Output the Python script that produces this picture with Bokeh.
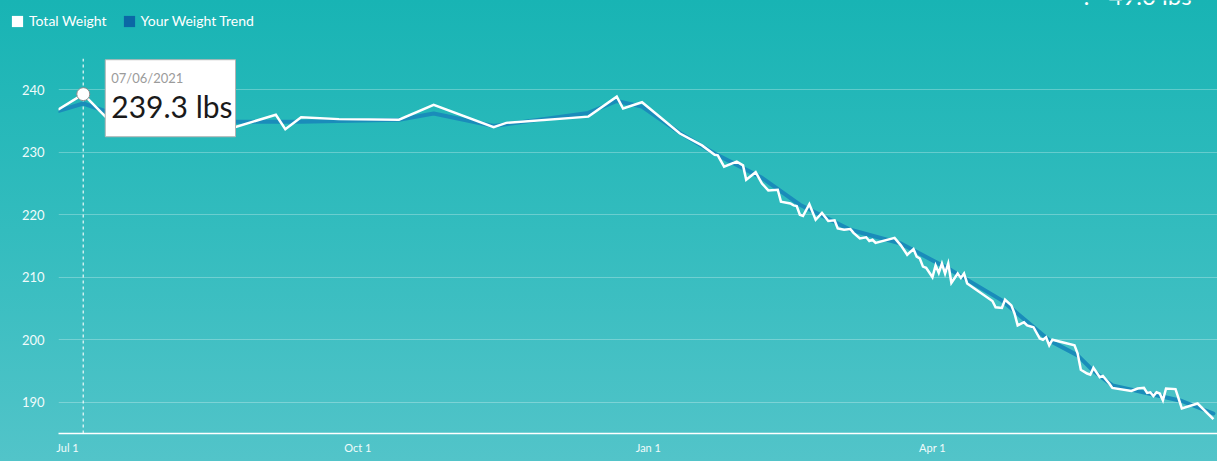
import pandas as pd
from bokeh.plotting import figure
from bokeh.layouts import column
from bokeh.models import FixedTicker, Label, Span, Range1d, Legend, LegendItem
from bokeh.embed import file_html
from bokeh.resources import INLINE

# ---------------- data ----------------
START = "2021-07-01"   # day 0 of the day offsets below

weight_days = [-3, 5, 12, 15, 36, 53, 66, 69, 74, 86, 105, 116, 135, 139, 165, 174, 176, 182,
               194, 201, 205, 206, 208, 212, 214, 215, 218, 220, 222, 225, 226, 229, 230, 231,
               232, 233, 235, 237, 239, 241, 243, 244, 246, 248, 249, 251, 253, 254, 255, 256,
               262, 264, 266, 268, 269, 270, 271, 272, 274, 275, 276, 277, 278, 279, 280, 282,
               283, 284, 285, 293, 294, 296, 297, 299, 300, 301, 303, 304, 306, 308, 309, 310,
               311, 312, 319, 320, 321, 323, 324, 325, 327, 328, 330, 331, 337, 339, 341, 342,
               343, 344, 345, 346, 347, 348, 351, 353, 358, 363]
weight_lbs = [236.8, 239.3, 235.7, 234.4, 233.9, 234.0, 236.0, 233.7, 235.6, 235.3, 235.2, 237.6,
              234.0, 234.7, 235.7, 238.9, 237.0, 238.0, 233.0, 231.1, 229.6, 229.5, 227.7, 228.5,
              227.9, 225.6, 226.8, 225.0, 223.9, 224.0, 222.1, 221.8, 221.5, 221.4, 220.0, 219.8,
              221.7, 219.2, 220.3, 219.0, 219.1, 217.8, 217.6, 217.7, 217.1, 216.2, 216.4, 215.8,
              216.0, 215.5, 216.3, 215.1, 213.6, 214.5, 213.3, 213.0, 211.7, 211.5, 210.0, 211.9,
              210.7, 212.2, 210.6, 212.2, 209.1, 210.6, 209.9, 210.6, 209.0, 206.2, 205.2, 205.1,
              206.4, 205.5, 204.2, 202.3, 202.8, 202.3, 202.0, 200.2, 200.0, 200.4, 199.1, 200.0,
              199.1, 197.8, 195.2, 194.6, 194.4, 195.5, 194.0, 194.2, 193.0, 192.3, 191.8, 192.2,
              192.3, 191.5, 191.6, 191.0, 191.6, 191.4, 190.3, 192.2, 192.1, 189.0, 189.8, 187.3]

trend_days = [-3, 5, 17, 42, 74, 105, 116, 135, 165, 174, 182, 194, 205, 220, 232, 248, 264,
              280, 296, 311, 320, 325, 331, 346, 353, 363]
trend_lbs = [236.6, 237.8, 235.7, 234.9, 234.9, 235.2, 236.2, 234.2, 236.3, 238.2, 237.3, 233.1,
             229.8, 225.9, 221.6, 217.6, 215.4, 211.1, 206.3, 199.9, 197.5, 195.0, 192.7, 191.0,
             190.2, 188.2]

x_tick_dates = ["2021-07-01", "2021-10-01", "2022-01-01", "2022-04-01"]
x_tick_labels = ["Jul 1", "Oct 1", "Jan 1", "Apr 1"]
y_ticks = [190, 200, 210, 220, 230, 240]

legend_labels = ["Total Weight", "Your Weight Trend"]
legend_colors = ["#ffffff", "#0b68a5"]
selected_date = "2021-07-06"
selected_lbs = 239.3
total_lost_text = "49.0 lbs"

# ---------------- build ----------------
start = pd.Timestamp(START)
w_dates = start + pd.to_timedelta(weight_days, unit="D")
t_dates = start + pd.to_timedelta(trend_days, unit="D")
sel = pd.Timestamp(selected_date)

FONT = "Lato"
WHITE = "#ffffff"
TREND = "#1a8cba"
W, H_TOP, H_MAIN = 1217, 58, 403

# ---- header strip (legend + cut-off total) ----
top = figure(width=W, height=H_TOP, output_backend="svg", toolbar_location=None, title=None,
             x_axis_location=None, y_axis_location=None,
             x_range=Range1d(0, 1), y_range=Range1d(0, 1),
             min_border_left=0, min_border_right=0, min_border_top=0, min_border_bottom=0)
top.frame_align = False
top.background_fill_alpha = 0
top.border_fill_alpha = 0
top.outline_line_color = None
top.grid.visible = False

# legend swatches are tied to the two series (their data lie outside this strip's ranges)
sw_weight = top.quad(left=w_dates, right=w_dates, top=weight_lbs, bottom=weight_lbs,
                     fill_color=legend_colors[0], line_color=None)
sw_trend = top.quad(left=t_dates, right=t_dates, top=trend_lbs, bottom=trend_lbs,
                    fill_color=legend_colors[1], line_color=None)
legend = Legend(items=[LegendItem(label=legend_labels[0], renderers=[sw_weight]),
                       LegendItem(label=legend_labels[1], renderers=[sw_trend])],
                location=(10, 29), orientation="horizontal",
                glyph_width=14, glyph_height=14, label_height=14,
                label_standoff=5, spacing=15, padding=0, margin=0,
                background_fill_alpha=0, border_line_color=None,
                label_text_color=WHITE, label_text_font=FONT,
                label_text_font_size="14px")
top.add_layout(legend)

top.add_layout(Label(x=1083, y=63, x_units="screen", y_units="screen", text=":",
                     text_font=FONT, text_font_size="24px", text_color=WHITE,
                     text_baseline="alphabetic"))
top.add_layout(Label(x=1108, y=63, x_units="screen", y_units="screen", text=total_lost_text,
                     text_font=FONT, text_font_size="24px", text_color=WHITE,
                     text_baseline="alphabetic"))

# ---- main chart ----
p = figure(width=W, height=H_MAIN, x_axis_type="datetime", output_backend="svg",
           toolbar_location=None, title=None,
           x_range=Range1d(start - pd.Timedelta(days=2.85), start + pd.Timedelta(days=364.3)),
           y_range=Range1d(185, 245),
           min_border_left=58, min_border_right=0, min_border_top=0, min_border_bottom=28)
p.frame_align = False
p.background_fill_alpha = 0
p.border_fill_alpha = 0
p.outline_line_color = None

p.xgrid.grid_line_color = None
p.ygrid.ticker = FixedTicker(ticks=y_ticks)
p.ygrid.grid_line_color = WHITE
p.ygrid.grid_line_alpha = 0.28
p.ygrid.grid_line_width = 1

yax = p.yaxis[0]
yax.ticker = FixedTicker(ticks=y_ticks)
yax.axis_line_color = None
yax.major_tick_line_color = None
yax.minor_tick_line_color = None
yax.major_tick_out = 0
yax.major_tick_in = 0
yax.major_label_standoff = 14
yax.major_label_text_color = "#f0fbfb"
yax.major_label_text_font = FONT
yax.major_label_text_font_size = "13px"

tick_ms = [pd.Timestamp(d).value / 1e6 for d in x_tick_dates]
xax = p.xaxis[0]
xax.ticker = FixedTicker(ticks=tick_ms)
xax.major_label_overrides = {t: lab for t, lab in zip(tick_ms, x_tick_labels)}
xax.axis_line_color = WHITE
xax.axis_line_width = 1.5
xax.major_tick_line_color = None
xax.minor_tick_line_color = None
xax.major_tick_out = 0
xax.major_tick_in = 0
xax.major_label_standoff = 7
xax.major_label_text_color = "#f0fbfb"
xax.major_label_text_font = FONT
xax.major_label_text_font_size = "11px"

p.add_layout(Span(location=sel, dimension="height", line_color=WHITE, line_alpha=0.75,
                  line_width=1.5, line_dash="3 3", level="underlay"))

p.line(t_dates, trend_lbs, line_color=TREND, line_width=4, line_join="round", line_cap="round")
p.line(w_dates, weight_lbs, line_color=WHITE, line_width=2.5, line_join="miter")
p.scatter([sel], [selected_lbs], size=13, fill_color=WHITE, line_color="#8c8c8c", line_width=1)

# tooltip
p.add_layout(Label(x=sel, y=selected_lbs, x_offset=22, y_offset=-4.1,
                   text=f"{selected_lbs} lbs", text_font=FONT, text_font_size="30px",
                   text_color="#1a1a1a", text_baseline="middle", text_align="left",
                   background_fill_color=WHITE, border_line_color="#b4b4b4",
                   border_line_width=1,
                   padding=dict(left=6, right=3, top=28, bottom=13)))
p.add_layout(Label(x=sel, y=selected_lbs, x_offset=28, y_offset=16.4,
                   text=pd.Timestamp(selected_date).strftime("%m/%d/%Y"),
                   text_font=FONT, text_font_size="13px", text_color="#9b9b9b",
                   text_baseline="middle", text_align="left"))

page = column(top, p, spacing=0,
              styles={"background": "linear-gradient(180deg, #18b4b4 0%, #33bcbe 50%, #52c4c9 100%)"})

open("out.html", "w").write(file_html(page, INLINE))
